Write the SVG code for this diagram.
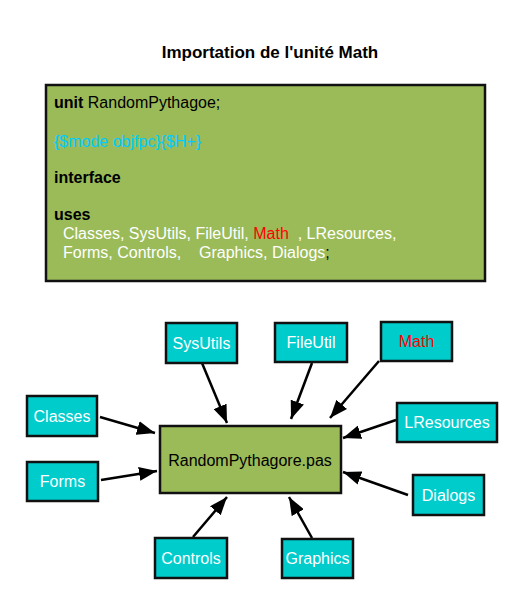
<svg xmlns="http://www.w3.org/2000/svg" width="524" height="599" viewBox="0 0 524 599">
<defs>
<marker id="ah" markerUnits="userSpaceOnUse" markerWidth="20" markerHeight="14" refX="18" refY="7" orient="auto">
<path d="M0,0 L18,7 L0,14 Z" fill="#000"/>
</marker>
<style>
text{font-family:"Liberation Sans",Arial,sans-serif;}
.node rect{fill:#00CCCC;stroke:#111;stroke-width:2.5;}
.node text{fill:#fff;font-size:16px;text-anchor:middle;}
.edges line{stroke:#000;stroke-width:2.5;marker-end:url(#ah);}
.code{font-size:16px;}
.w{fill:#fff;}
</style>
</defs>
<rect width="524" height="599" fill="#fff"/>
<text id="title" x="270" y="58" font-size="17" font-weight="bold" text-anchor="middle" fill="#000">Importation de l'unité Math</text>
<g id="code">
<rect x="46" y="85" width="439" height="196" fill="#9BBB59" stroke="#111" stroke-width="2.5"/>
<text class="code" x="54" y="108"><tspan font-weight="bold">unit</tspan> RandomPythagoe;</text>
<text class="code" x="54" y="147" fill="#00CCFF">{$mode objfpc}{$H+}</text>
<text class="code" x="54" y="183" font-weight="bold">interface</text>
<text class="code" x="54" y="220" font-weight="bold">uses</text>
<text class="code w" x="63" y="239" xml:space="preserve">Classes, SysUtils, FileUtil, <tspan fill="#FF0000">Math</tspan>  , LResources,</text>
<text class="code w" x="63" y="258" xml:space="preserve">Forms, Controls,    Graphics, Dialogs<tspan fill="#000">;</tspan></text>
</g>
<g class="edges">
<line x1="100" y1="417" x2="155" y2="433"/>
<line x1="202" y1="363" x2="227" y2="423"/>
<line x1="312" y1="363" x2="291" y2="419"/>
<line x1="379" y1="361" x2="330" y2="418"/>
<line x1="396" y1="420" x2="343" y2="438"/>
<line x1="101" y1="480" x2="157" y2="471"/>
<line x1="408" y1="495" x2="343" y2="472"/>
<line x1="193" y1="537" x2="227" y2="497"/>
<line x1="312" y1="538" x2="289" y2="497"/>
</g>
<g id="main">
<rect x="160" y="426" width="181" height="67" fill="#9BBB59" stroke="#111" stroke-width="2.5"/>
<text x="250" y="466" font-size="16" text-anchor="middle" fill="#000">RandomPythagore.pas</text>
</g>
<g id="SysUtils" class="node"><rect x="166" y="323" width="71" height="40"/><text x="201.5" y="348.5">SysUtils</text></g>
<g id="FileUtil" class="node"><rect x="275" y="323" width="72" height="39"/><text x="311" y="348">FileUtil</text></g>
<g id="Math" class="node"><rect x="381" y="322" width="71" height="39"/><text x="416.5" y="347" style="fill:#FF0000">Math</text></g>
<g id="Classes" class="node"><rect x="27" y="396" width="70" height="40"/><text x="62" y="421.5">Classes</text></g>
<g id="LResources" class="node"><rect x="397" y="403" width="100" height="39"/><text x="447" y="428">LResources</text></g>
<g id="Forms" class="node"><rect x="27" y="462" width="71" height="39"/><text x="62.5" y="487">Forms</text></g>
<g id="Dialogs" class="node"><rect x="413" y="475" width="71" height="40"/><text x="448.5" y="500.5">Dialogs</text></g>
<g id="Controls" class="node"><rect x="155" y="538" width="72" height="40"/><text x="191" y="563.5">Controls</text></g>
<g id="Graphics" class="node"><rect x="282" y="539" width="71" height="39"/><text x="317.5" y="564">Graphics</text></g>
</svg>
